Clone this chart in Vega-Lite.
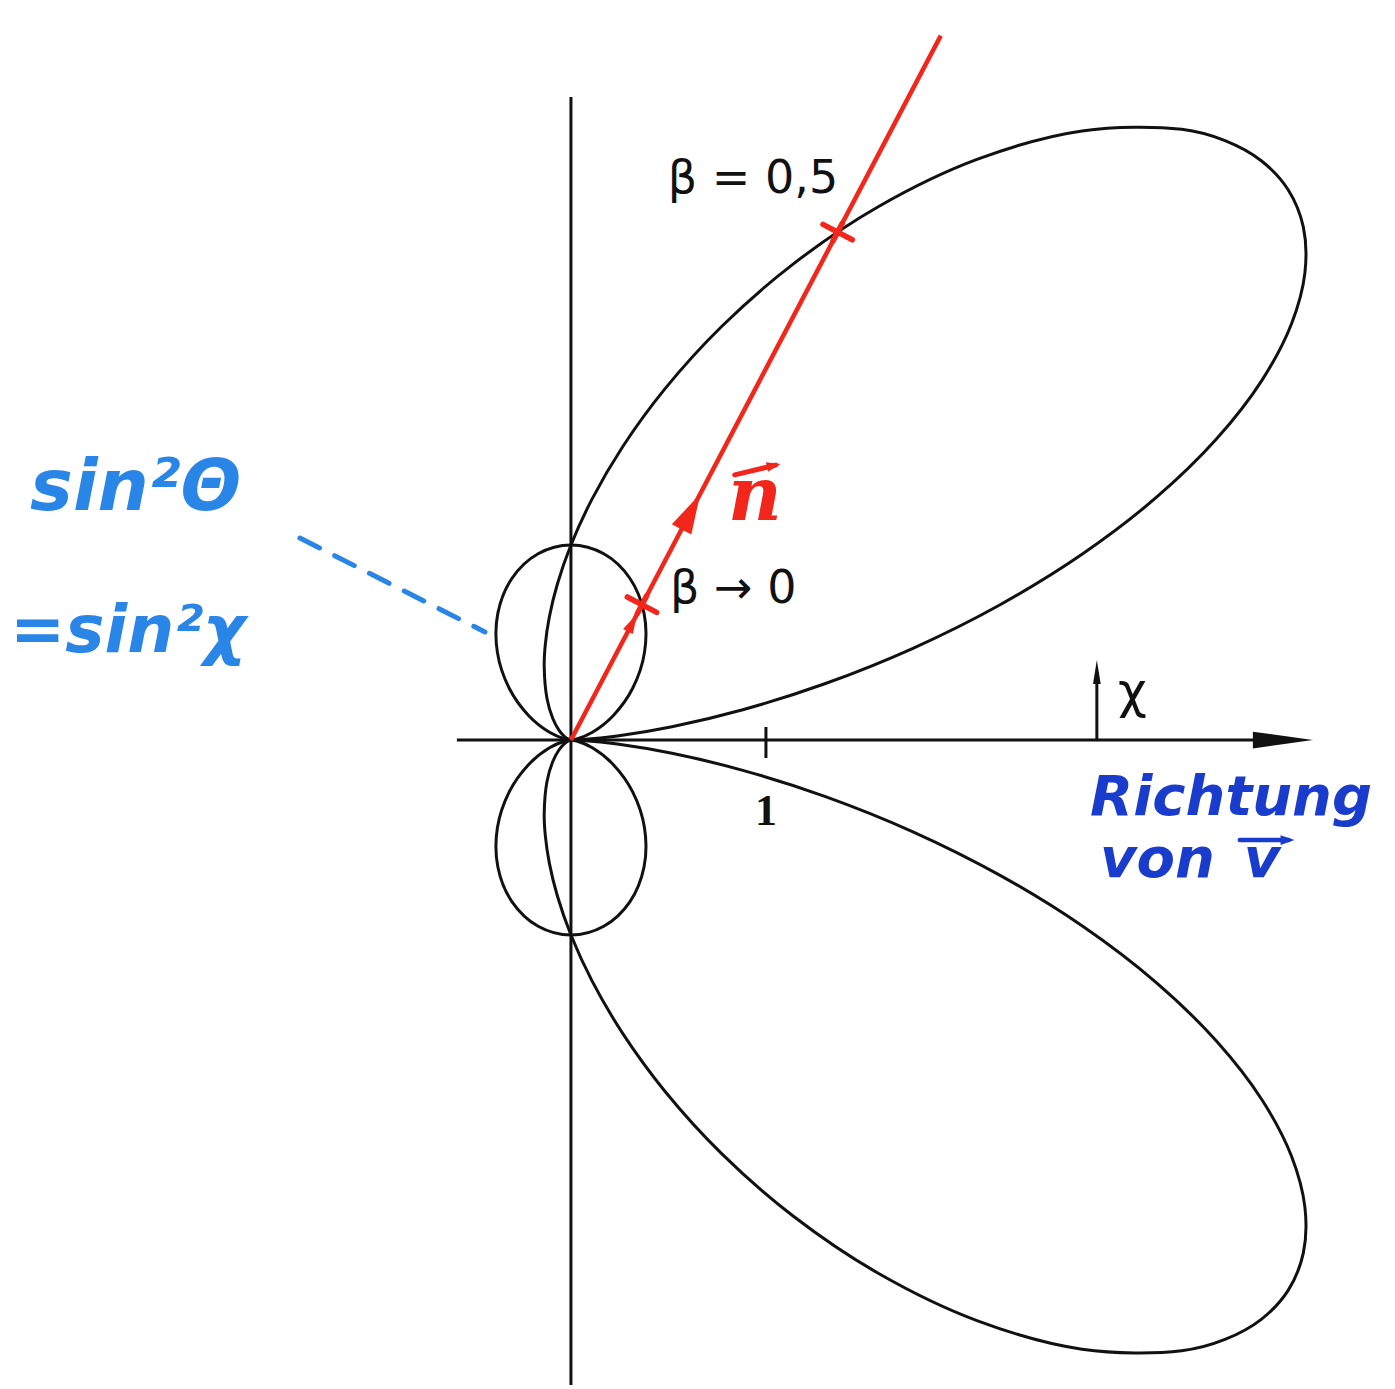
{
  "$schema": "https://vega.github.io/schema/vega-lite/v6.json",
  "width": 1395,
  "height": 1389,
  "padding": 0,
  "autosize": {"type": "fit", "contains": "padding"},
  "background": "white",
  "config": {"view": {"stroke": null}},
  "encoding": {
    "x": {"field": "x", "type": "quantitative", "axis": null, "scale": {"domain": [-2.928, 4.226], "nice": false, "zero": false}},
    "y": {"field": "y", "type": "quantitative", "axis": null, "scale": {"domain": [-3.328, 3.795], "nice": false, "zero": false}}
  },
  "layer": [
    {
      "description": "axes, unit tick and the chi arrow shaft",
      "data": {"values": [
        {"x": 0, "y": 3.297, "x2": 0, "y2": -3.308},
        {"x": -0.585, "y": 0, "x2": 3.65, "y2": 0},
        {"x": 1, "y": 0.067, "x2": 1, "y2": -0.092},
        {"x": 2.697, "y": 0, "x2": 2.697, "y2": 0.35}
      ]},
      "mark": {"type": "rule", "color": "#111111", "strokeWidth": 3},
      "encoding": {"x2": {"field": "x2"}, "y2": {"field": "y2"}}
    },
    {
      "description": "dashed leader to the sin^2 lobe",
      "data": {"values": [{"x": -1.39, "y": 1.036, "x2": -0.441, "y2": 0.554}]},
      "mark": {"type": "rule", "color": "#2a86e6", "strokeWidth": 5, "strokeDash": [22, 17], "strokeCap": "round"},
      "encoding": {"x2": {"field": "x2"}, "y2": {"field": "y2"}}
    },
    {
      "description": "beta -> 0: r = sin^2(chi)",
      "data": {"values": [
        {"half": "up", "t": 0, "x": 0, "y": 0},
        {"half": "up", "t": 10, "x": 0.0297, "y": 0.00524},
        {"half": "up", "t": 20, "x": 0.10992, "y": 0.04001},
        {"half": "up", "t": 30, "x": 0.21651, "y": 0.125},
        {"half": "up", "t": 40, "x": 0.31651, "y": 0.26558},
        {"half": "up", "t": 50, "x": 0.3772, "y": 0.44953},
        {"half": "up", "t": 60, "x": 0.375, "y": 0.64952},
        {"half": "up", "t": 70, "x": 0.30201, "y": 0.82977},
        {"half": "up", "t": 80, "x": 0.16841, "y": 0.95511},
        {"half": "up", "t": 90, "x": 0, "y": 1},
        {"half": "up", "t": 100, "x": -0.16841, "y": 0.95511},
        {"half": "up", "t": 110, "x": -0.30201, "y": 0.82977},
        {"half": "up", "t": 120, "x": -0.375, "y": 0.64952},
        {"half": "up", "t": 130, "x": -0.3772, "y": 0.44953},
        {"half": "up", "t": 140, "x": -0.31651, "y": 0.26558},
        {"half": "up", "t": 150, "x": -0.21651, "y": 0.125},
        {"half": "up", "t": 160, "x": -0.10992, "y": 0.04001},
        {"half": "up", "t": 170, "x": -0.0297, "y": 0.00524},
        {"half": "up", "t": 180, "x": 0, "y": 0},
        {"half": "down", "t": 0, "x": 0, "y": 0},
        {"half": "down", "t": 10, "x": 0.0297, "y": -0.00524},
        {"half": "down", "t": 20, "x": 0.10992, "y": -0.04001},
        {"half": "down", "t": 30, "x": 0.21651, "y": -0.125},
        {"half": "down", "t": 40, "x": 0.31651, "y": -0.26558},
        {"half": "down", "t": 50, "x": 0.3772, "y": -0.44953},
        {"half": "down", "t": 60, "x": 0.375, "y": -0.64952},
        {"half": "down", "t": 70, "x": 0.30201, "y": -0.82977},
        {"half": "down", "t": 80, "x": 0.16841, "y": -0.95511},
        {"half": "down", "t": 90, "x": 0, "y": -1},
        {"half": "down", "t": 100, "x": -0.16841, "y": -0.95511},
        {"half": "down", "t": 110, "x": -0.30201, "y": -0.82977},
        {"half": "down", "t": 120, "x": -0.375, "y": -0.64952},
        {"half": "down", "t": 130, "x": -0.3772, "y": -0.44953},
        {"half": "down", "t": 140, "x": -0.31651, "y": -0.26558},
        {"half": "down", "t": 150, "x": -0.21651, "y": -0.125},
        {"half": "down", "t": 160, "x": -0.10992, "y": -0.04001},
        {"half": "down", "t": 170, "x": -0.0297, "y": -0.00524},
        {"half": "down", "t": 180, "x": 0, "y": 0}
      ]},
      "mark": {"type": "line", "color": "#111111", "strokeWidth": 3, "interpolate": "catmull-rom"},
      "encoding": {"detail": {"field": "half"}, "order": {"field": "t", "type": "quantitative"}}
    },
    {
      "description": "beta = 0.5: sin^2(chi) / (1 - beta cos(chi))^5",
      "data": {"values": [
        {"half": "up", "t": 0, "x": 0, "y": 0},
        {"half": "up", "t": 2.5, "x": 0.06054, "y": 0.00264},
        {"half": "up", "t": 5, "x": 0.23759, "y": 0.02079},
        {"half": "up", "t": 7.5, "x": 0.51798, "y": 0.06819},
        {"half": "up", "t": 10, "x": 0.88125, "y": 0.15539},
        {"half": "up", "t": 12.5, "x": 1.30175, "y": 0.28859},
        {"half": "up", "t": 15, "x": 1.75114, "y": 0.46922},
        {"half": "up", "t": 17.5, "x": 2.20092, "y": 0.69395},
        {"half": "up", "t": 20, "x": 2.62475, "y": 0.95532},
        {"half": "up", "t": 22.5, "x": 3.00019, "y": 1.24272},
        {"half": "up", "t": 25, "x": 3.31013, "y": 1.54354},
        {"half": "up", "t": 27.5, "x": 3.54353, "y": 1.84465},
        {"half": "up", "t": 30, "x": 3.6949, "y": 2.13325},
        {"half": "up", "t": 32.5, "x": 3.76425, "y": 2.39809},
        {"half": "up", "t": 35, "x": 3.75601, "y": 2.62996},
        {"half": "up", "t": 37.5, "x": 3.67801, "y": 2.82223},
        {"half": "up", "t": 40, "x": 3.54026, "y": 2.97065},
        {"half": "up", "t": 42.5, "x": 3.35433, "y": 3.07368},
        {"half": "up", "t": 45, "x": 3.13174, "y": 3.13174},
        {"half": "up", "t": 50, "x": 2.62113, "y": 3.1237},
        {"half": "up", "t": 55, "x": 2.08557, "y": 2.97853},
        {"half": "up", "t": 60, "x": 1.58025, "y": 2.73707},
        {"half": "up", "t": 65, "x": 1.13754, "y": 2.43946},
        {"half": "up", "t": 70, "x": 0.7714, "y": 2.11937},
        {"half": "up", "t": 75, "x": 0.48285, "y": 1.80203},
        {"half": "up", "t": 80, "x": 0.26522, "y": 1.50412},
        {"half": "up", "t": 85, "x": 0.10808, "y": 1.23533},
        {"half": "up", "t": 90, "x": 0, "y": 1},
        {"half": "up", "t": 95, "x": -0.06988, "y": 0.79875},
        {"half": "up", "t": 100, "x": -0.11107, "y": 0.62988},
        {"half": "up", "t": 105, "x": -0.13141, "y": 0.49043},
        {"half": "up", "t": 110, "x": -0.13716, "y": 0.37684},
        {"half": "up", "t": 120, "x": -0.12288, "y": 0.21284},
        {"half": "up", "t": 130, "x": -0.09363, "y": 0.11158},
        {"half": "up", "t": 140, "x": -0.06255, "y": 0.05249},
        {"half": "up", "t": 150, "x": -0.03583, "y": 0.02069},
        {"half": "up", "t": 160, "x": -0.01602, "y": 0.00583},
        {"half": "up", "t": 170, "x": -0.00401, "y": 0.00071},
        {"half": "up", "t": 180, "x": 0, "y": 0},
        {"half": "down", "t": 0, "x": 0, "y": 0},
        {"half": "down", "t": 2.5, "x": 0.06054, "y": -0.00264},
        {"half": "down", "t": 5, "x": 0.23759, "y": -0.02079},
        {"half": "down", "t": 7.5, "x": 0.51798, "y": -0.06819},
        {"half": "down", "t": 10, "x": 0.88125, "y": -0.15539},
        {"half": "down", "t": 12.5, "x": 1.30175, "y": -0.28859},
        {"half": "down", "t": 15, "x": 1.75114, "y": -0.46922},
        {"half": "down", "t": 17.5, "x": 2.20092, "y": -0.69395},
        {"half": "down", "t": 20, "x": 2.62475, "y": -0.95532},
        {"half": "down", "t": 22.5, "x": 3.00019, "y": -1.24272},
        {"half": "down", "t": 25, "x": 3.31013, "y": -1.54354},
        {"half": "down", "t": 27.5, "x": 3.54353, "y": -1.84465},
        {"half": "down", "t": 30, "x": 3.6949, "y": -2.13325},
        {"half": "down", "t": 32.5, "x": 3.76425, "y": -2.39809},
        {"half": "down", "t": 35, "x": 3.75601, "y": -2.62996},
        {"half": "down", "t": 37.5, "x": 3.67801, "y": -2.82223},
        {"half": "down", "t": 40, "x": 3.54026, "y": -2.97065},
        {"half": "down", "t": 42.5, "x": 3.35433, "y": -3.07368},
        {"half": "down", "t": 45, "x": 3.13174, "y": -3.13174},
        {"half": "down", "t": 50, "x": 2.62113, "y": -3.1237},
        {"half": "down", "t": 55, "x": 2.08557, "y": -2.97853},
        {"half": "down", "t": 60, "x": 1.58025, "y": -2.73707},
        {"half": "down", "t": 65, "x": 1.13754, "y": -2.43946},
        {"half": "down", "t": 70, "x": 0.7714, "y": -2.11937},
        {"half": "down", "t": 75, "x": 0.48285, "y": -1.80203},
        {"half": "down", "t": 80, "x": 0.26522, "y": -1.50412},
        {"half": "down", "t": 85, "x": 0.10808, "y": -1.23533},
        {"half": "down", "t": 90, "x": 0, "y": -1},
        {"half": "down", "t": 95, "x": -0.06988, "y": -0.79875},
        {"half": "down", "t": 100, "x": -0.11107, "y": -0.62988},
        {"half": "down", "t": 105, "x": -0.13141, "y": -0.49043},
        {"half": "down", "t": 110, "x": -0.13716, "y": -0.37684},
        {"half": "down", "t": 120, "x": -0.12288, "y": -0.21284},
        {"half": "down", "t": 130, "x": -0.09363, "y": -0.11158},
        {"half": "down", "t": 140, "x": -0.06255, "y": -0.05249},
        {"half": "down", "t": 150, "x": -0.03583, "y": -0.02069},
        {"half": "down", "t": 160, "x": -0.01602, "y": -0.00583},
        {"half": "down", "t": 170, "x": -0.00401, "y": -0.00071},
        {"half": "down", "t": 180, "x": 0, "y": 0}
      ]},
      "mark": {"type": "line", "color": "#111111", "strokeWidth": 3, "interpolate": "catmull-rom"},
      "encoding": {"detail": {"field": "half"}, "order": {"field": "t", "type": "quantitative"}}
    },
    {
      "description": "direction n",
      "data": {"values": [{"x": 0, "y": 0, "x2": 1.8966, "y2": 3.6124}]},
      "mark": {"type": "rule", "color": "#f2261a", "strokeWidth": 4.5},
      "encoding": {"x2": {"field": "x2"}, "y2": {"field": "y2"}}
    },
    {
      "description": "axis arrowhead",
      "data": {"values": [{"x": 3.651, "y": 0}]},
      "mark": {"type": "point", "shape": "M-1.5,-0.42L1.5,0L-1.5,0.42Z", "size": 1600, "filled": true, "color": "#111111", "opacity": 1, "strokeWidth": 0}
    },
    {
      "description": "chi arrowhead",
      "data": {"values": [{"x": 2.697, "y": 0.349}]},
      "mark": {"type": "point", "shape": "M0,-1L0.32,1L-0.32,1Z", "size": 576, "filled": true, "color": "#111111", "opacity": 1, "strokeWidth": 0}
    },
    {
      "description": "arrowheads along n",
      "data": {"values": [{"x": 0.615, "y": 1.171}]},
      "mark": {"type": "point", "shape": "M0,-1L0.55,1L-0.55,1Z", "size": 1600, "angle": 27.7, "filled": true, "color": "#f2261a", "opacity": 1, "strokeWidth": 0}
    },
    {
      "data": {"values": [{"x": 0.316, "y": 0.602}]},
      "mark": {"type": "point", "shape": "M0,-1L0.55,1L-0.55,1Z", "size": 400, "angle": 27.7, "filled": true, "color": "#f2261a", "opacity": 1, "strokeWidth": 0}
    },
    {
      "description": "crossing marks where n meets each lobe",
      "data": {"values": [{"x": 0.3644, "y": 0.6941}, {"x": 1.3676, "y": 2.6049}]},
      "mark": {"type": "point", "shape": "M-1,0L1,0M0,-0.6L0,0.6", "size": 1100, "angle": 27.7, "filled": false, "color": "#f2261a", "opacity": 1, "strokeWidth": 5.5, "strokeCap": "round"}
    },
    {
      "data": {"values": [{"x": 0.497, "y": 2.805, "label": "β = 0,5"}, {"x": 0.508, "y": 0.703, "label": "β → 0"}]},
      "mark": {"type": "text", "align": "left", "baseline": "alphabetic", "font": "DejaVu Sans", "fontSize": 46, "color": "#111111"},
      "encoding": {"text": {"field": "label"}}
    },
    {
      "data": {"values": [{"x": 1.0, "y": -0.436, "label": "1"}]},
      "mark": {"type": "text", "align": "center", "baseline": "alphabetic", "font": "Liberation Serif", "fontSize": 44, "fontWeight": "bold", "color": "#111111"},
      "encoding": {"text": {"field": "label"}}
    },
    {
      "data": {"values": [{"x": 2.805, "y": 0.164, "label": "χ"}]},
      "mark": {"type": "text", "align": "left", "baseline": "alphabetic", "font": "DejaVu Sans", "fontSize": 50, "color": "#111111"},
      "encoding": {"text": {"field": "label"}}
    },
    {
      "data": {"values": [{"x": 0.944, "y": 1.128, "label": "n"}]},
      "mark": {"type": "text", "align": "center", "baseline": "alphabetic", "font": "DejaVu Serif", "fontSize": 74, "fontStyle": "italic", "fontWeight": "bold", "color": "#f2261a"},
      "encoding": {"text": {"field": "label"}}
    },
    {
      "description": "vector arrow over n",
      "data": {"values": [{"x": 0.84, "y": 1.36, "x2": 1.05, "y2": 1.41}]},
      "mark": {"type": "rule", "color": "#f2261a", "strokeWidth": 5, "strokeCap": "round"},
      "encoding": {"x2": {"field": "x2"}, "y2": {"field": "y2"}}
    },
    {
      "data": {"values": [{"x": 1.04, "y": 1.408}]},
      "mark": {"type": "point", "shape": "M1,0L-1,-0.7L-1,0.7Z", "size": 196, "angle": -13, "filled": true, "color": "#f2261a", "opacity": 1, "strokeWidth": 0}
    },
    {
      "data": {"values": [{"x": -2.774, "y": 1.179, "label": "sin²Θ"}]},
      "mark": {"type": "text", "align": "left", "baseline": "alphabetic", "font": "DejaVu Sans", "fontSize": 72, "fontStyle": "italic", "fontWeight": "bold", "color": "#2a86e6"},
      "encoding": {"text": {"field": "label"}}
    },
    {
      "data": {"values": [{"x": -2.877, "y": 0.451, "label": "=sin²χ"}]},
      "mark": {"type": "text", "align": "left", "baseline": "alphabetic", "font": "DejaVu Sans", "fontSize": 66, "fontStyle": "italic", "fontWeight": "bold", "color": "#2a86e6"},
      "encoding": {"text": {"field": "label"}}
    },
    {
      "data": {"values": [{"x": 2.662, "y": -0.385, "label": "Richtung"}, {"x": 2.713, "y": -0.703, "label": "von"}]},
      "mark": {"type": "text", "align": "left", "baseline": "alphabetic", "font": "DejaVu Sans", "fontSize": 56, "fontStyle": "italic", "fontWeight": "bold", "color": "#1a3ccc"},
      "encoding": {"text": {"field": "label"}}
    },
    {
      "data": {"values": [{"x": 3.544, "y": -0.703, "label": "v"}]},
      "mark": {"type": "text", "align": "center", "baseline": "alphabetic", "font": "DejaVu Sans", "fontSize": 56, "fontStyle": "italic", "fontWeight": "bold", "color": "#1a3ccc"},
      "encoding": {"text": {"field": "label"}}
    },
    {
      "description": "vector arrow over v",
      "data": {"values": [{"x": 3.43, "y": -0.513, "x2": 3.68, "y2": -0.513}]},
      "mark": {"type": "rule", "color": "#1a3ccc", "strokeWidth": 4.5, "strokeCap": "round"},
      "encoding": {"x2": {"field": "x2"}, "y2": {"field": "y2"}}
    },
    {
      "data": {"values": [{"x": 3.675, "y": -0.513}]},
      "mark": {"type": "point", "shape": "M1,0L-1,-0.7L-1,0.7Z", "size": 196, "filled": true, "color": "#1a3ccc", "opacity": 1, "strokeWidth": 0}
    }
  ]
}
